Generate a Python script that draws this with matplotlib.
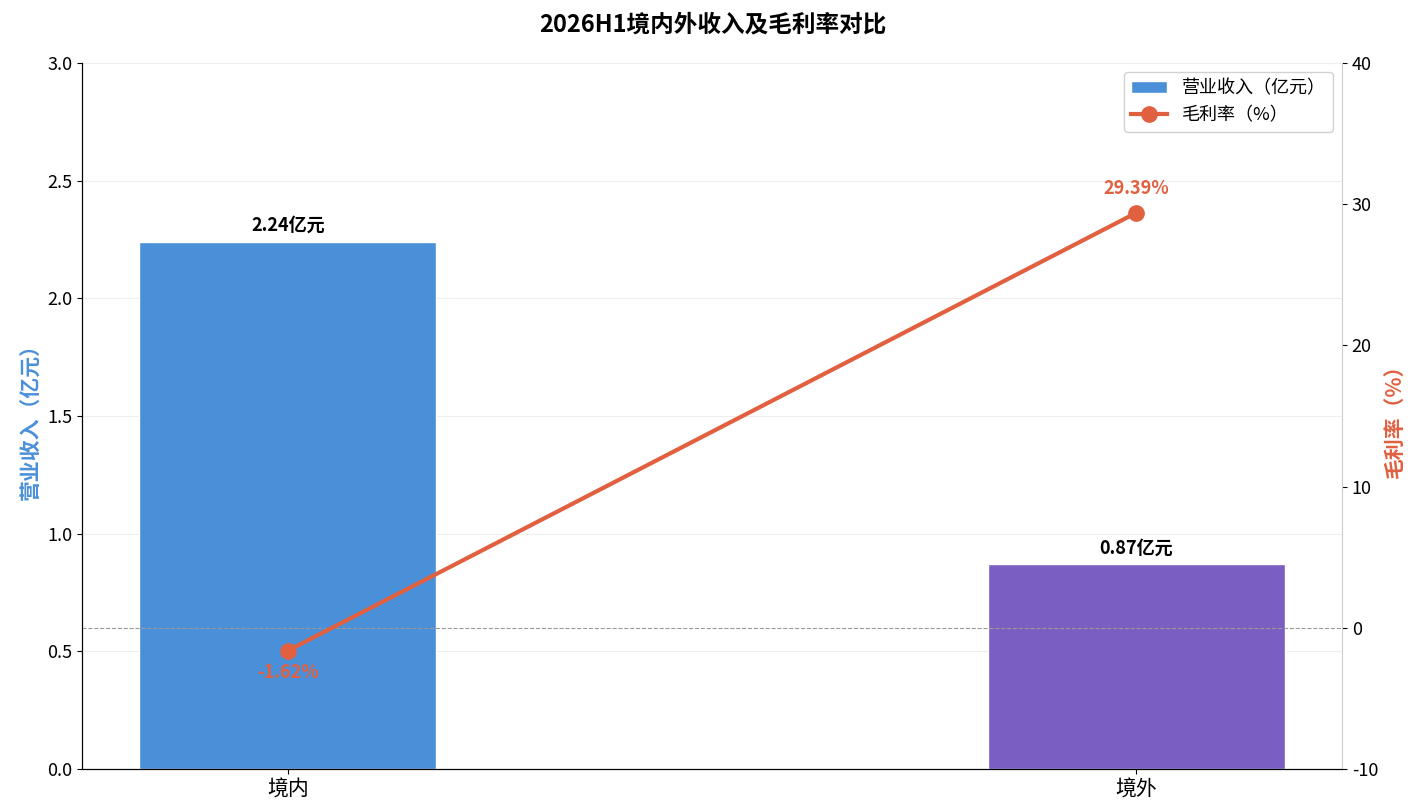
import matplotlib
matplotlib.use('Agg')
from matplotlib import pyplot as plt
import numpy as np

plt.rcParams['font.family'] = ['Noto Sans CJK SC', 'DejaVu Sans']
plt.rcParams['axes.unicode_minus'] = False

# data
regions = ['境内', '境外']
revenue = [2.24, 0.87]          # 亿元
margin = [-1.62, 29.39]         # %
bar_colors = ['#4A90D9', '#7B5EC2']
line_color = '#E06040'

fig = plt.figure(figsize=(14.26, 8.10), dpi=100)
ax = fig.add_axes([0.0575, 0.0506, 0.8836, 0.8716])
x = np.arange(len(regions))

bars = ax.bar(x, revenue, width=0.35, color=bar_colors, edgecolor='white', linewidth=1,
              label='营业收入（亿元）', zorder=2)
for xi, v in zip(x, revenue):
    ax.annotate(f'{v:.2f}亿元', (xi, v), xytext=(0, 5), textcoords='offset points',
                ha='center', va='bottom', fontsize=13, fontweight='bold', color='black')

ax.set_ylim(0, 3.0)
ax.set_yticks(np.arange(0, 3.01, 0.5))
ax.set_xticks(x)
ax.set_xticklabels(regions, fontsize=15)
ax.tick_params(axis='y', labelsize=13)
ax.set_ylabel('营业收入（亿元）', fontsize=15, fontweight='bold', color='#4A90D9')
ax.grid(axis='y', color='#eeeeee', linewidth=0.8, zorder=0)
ax.set_axisbelow(True)
ax.spines['top'].set_visible(False)
ax.spines['right'].set_visible(False)

ax2 = ax.twinx()
line, = ax2.plot(x, margin, color=line_color, linewidth=3, marker='o', markersize=11,
                 label='毛利率（%）', zorder=3)
ax2.axhline(0, color='#999999', linestyle='--', linewidth=0.8, zorder=1)
ax2.set_ylim(-10, 40)
ax2.set_yticks(np.arange(-10, 41, 10))
ax2.tick_params(axis='y', labelsize=13)
ax2.set_ylabel('毛利率（%）', fontsize=15, fontweight='bold', color=line_color)
ax2.spines['top'].set_visible(False)
ax2.spines['right'].set_color('#cccccc')
for xi, v in zip(x, margin):
    if v < 0:
        ax2.annotate(f'{v:.2f}%', (xi, v), xytext=(0, -9), textcoords='offset points',
                     ha='center', va='top', fontsize=13, fontweight='bold', color=line_color)
    else:
        ax2.annotate(f'{v:.2f}%', (xi, v), xytext=(0, 11), textcoords='offset points',
                     ha='center', va='bottom', fontsize=13, fontweight='bold', color=line_color)

ax2.legend([bars, line], ['营业收入（亿元）', '毛利率（%）'], loc='upper right',
           fontsize=13, framealpha=0.9, edgecolor='#cccccc')

fig.suptitle('2026H1境内外收入及毛利率对比', fontsize=17, fontweight='bold', y=0.985)

fig.savefig('out.png', dpi=100)
